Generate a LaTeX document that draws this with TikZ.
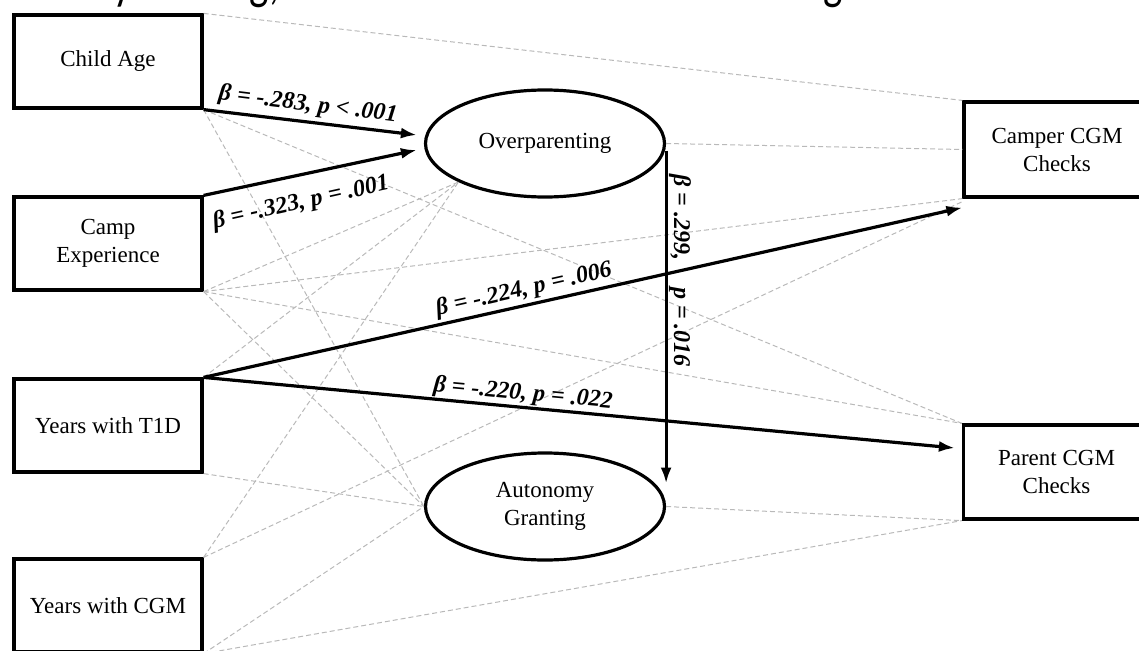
\documentclass[tikz,border=0pt]{standalone}
\usepackage{fontspec}
\setmainfont{Liberation Serif}
\newfontfamily\capfont{Carlito}
\usetikzlibrary{arrows.meta,shapes.geometric,calc}
\begin{document}
\begin{tikzpicture}[x=1pt,y=-1pt,
  box/.style={draw,line width=3.2pt,minimum width=188pt,minimum height=93pt,inner sep=0pt,align=center,font=\fontsize{23}{28}\selectfont},
  latent/.style={draw,ellipse,line width=3.2pt,minimum width=239pt,minimum height=107pt,inner sep=0pt,align=center,font=\fontsize{23}{28}\selectfont},
  sig/.style={line width=3.2pt,-{Latex[length=16pt,width=11pt]}},
  ns/.style={gray!55,line width=1pt,dash pattern=on 5pt off 3pt},
  coef/.style={font=\fontsize{24}{28}\selectfont\bfseries\itshape,inner sep=0pt},
  frag/.style={font=\capfont\fontsize{54}{54}\selectfont,inner sep=0pt,xscale=0.76}]
\useasboundingbox (0,0) rectangle (1139,650);
\clip (0,0) rectangle (1139,650);
% cut-off caption fragments
\node[frag,anchor=base west] (t1) at (113,-1) {y training,};
\node[frag,anchor=base east] (t2) at (843,-1) {ing};
% nodes
\node[box] (ca) at (108,61.5) {Child Age};
\node[box] (ce) at (108,243.5) {Camp\\Experience};
\node[box] (t1d) at (108,425.5) {Years with T1D};
\node[box] (cgm) at (108,605.5) {Years with CGM};
\node[latent] (op) at (545,143.5) {Overparenting};
\node[latent] (ag) at (545,506.5) {Autonomy\\Granting};
\node[box,minimum width=186pt,minimum height=95pt] (cc) at (1057,149.5) {Camper CGM\\Checks};
\node[box,minimum width=186pt,minimum height=94pt] (pc) at (1056.5,472) {Parent CGM\\Checks};
% non-significant paths
\draw[ns] (ca.north east) -- (cc.north west);
\draw[ns] (ca.south east) -- (ag.west);
\draw[ns] (ca.south east) -- (pc.north west);
\draw[ns] (ce.south east) -- (op.204);
\draw[ns] (ce.south east) -- (ag.west);
\draw[ns] (ce.south east) -- (cc.south west);
\draw[ns] (ce.south east) -- (pc.north west);
\draw[ns] (t1d.north east) -- (op.204);
\draw[ns] (t1d.south east) -- (ag.west);
\draw[ns] (cgm.north east) -- (op.204);
\draw[ns] (cgm.north east) -- ([yshift=-3pt]cc.south west);
\draw[ns] (cgm.south east) -- (ag.west);
\draw[ns] (cgm.south east) -- (pc.south west);
\draw[ns] (op.east) -- (cc.west);
\draw[ns] (ag.east) -- (pc.south west);
% significant paths
\draw[sig] (ca.south east) -- ([xshift=-7pt,yshift=8.5pt]op.west);
\draw[sig] (ce.north east) -- ([xshift=-7pt,yshift=-6.5pt]op.west);
\draw[sig] (t1d.north east) -- ([yshift=-9pt]cc.south west);
\draw[sig] (t1d.north east) -- ([xshift=-7pt,yshift=24pt]pc.west);
\draw[sig] ([yshift=-7pt]op.east) -- ([yshift=23pt]ag.east);
% coefficients
\node[coef,rotate=-7] (l1) at (308,105) {β = -.283, p < .001};
\node[coef,rotate=12.5] (l2) at (301,203) {β = -.323, p = .001};
\node[coef,rotate=12.7] (l3) at (524,290) {β = -.224, p = .006};
\node[coef,rotate=-5.3] (l4) at (523,394) {β = -.220, p = .022};
\node[coef,rotate=-90] (l5) at (680,270.5) {β = .299,\hspace{27pt}p = .016};
\end{tikzpicture}
\end{document}
